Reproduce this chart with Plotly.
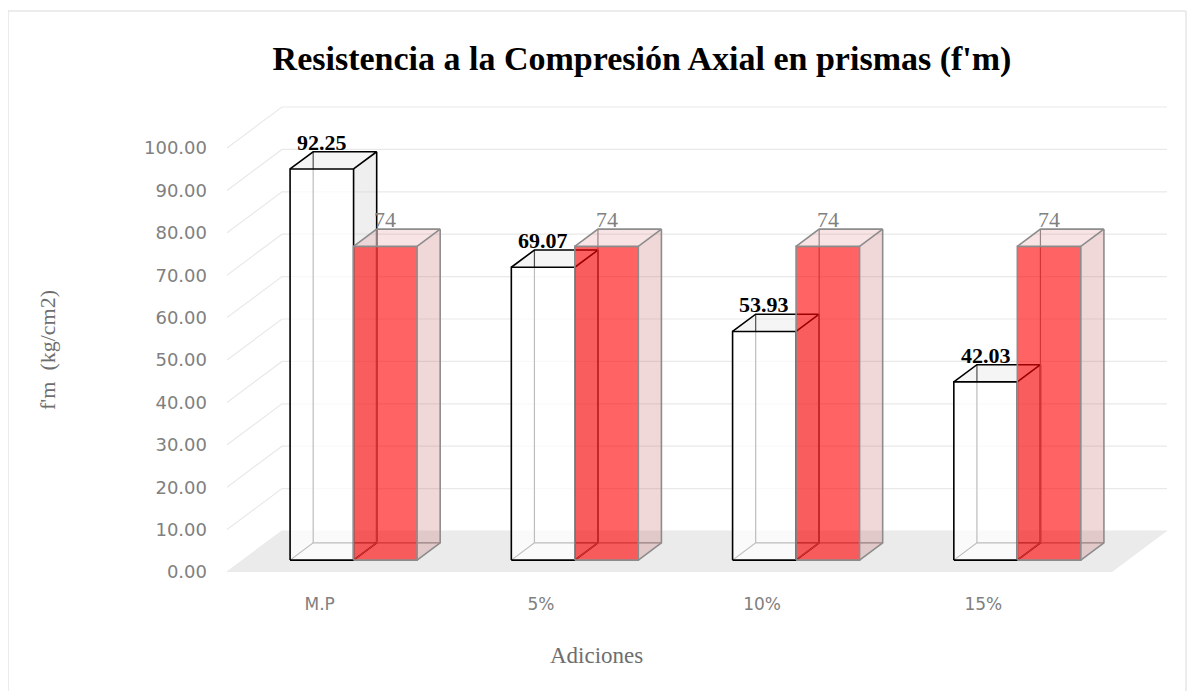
import plotly.graph_objects as go

# ---------------- data ----------------
categories = ["M.P", "5%", "10%", "15%"]
fm_values = [92.25, 69.07, 53.93, 42.03]
ref_values = [74, 74, 74, 74]
fm_labels = ["92.25", "69.07", "53.93", "42.03"]
ref_labels = ["74", "74", "74", "74"]
y_ticks = [0, 10, 20, 30, 40, 50, 60, 70, 80, 90, 100]
y_ticktext = ["%.2f" % v for v in y_ticks]

# ---------------- geometry / layout constants (reference pixels) ----------------
W, H = 1195, 691
OFF = 8                # page body margin offset
PX_X = 221.25          # pixels per category unit
PX_Y = 4.24            # pixels per value unit
X_FRONT0 = 227         # pixel of x = -0.5 at front plane
Y_ZERO = 572           # pixel of value 0 at front plane
DX = 55 / PX_X         # full depth offset (x, category units)
DY = 41 / PX_Y         # full depth offset (y, value units)
D0, D1 = 0.29, 0.71    # bar depth extent
BW = 0.287             # bar width (category units)
LABEL_SHIFT = -18 / PX_X  # category labels sit slightly left of the category centre

L, R, T, B = 215, 1180, 95, 592
x_min = -0.5 - (X_FRONT0 - L) / PX_X
x_max = x_min + (R - L) / PX_X
y_min = (Y_ZERO - B) / PX_Y
y_max = (Y_ZERO - T) / PX_Y

n = len(categories)


def P(x, y, d):
    return x + d * DX, y + d * DY


def poly(points, fill, line_color=None, width=0):
    xs = [p[0] for p in points] + [points[0][0]]
    ys = [p[1] for p in points] + [points[0][1]]
    return go.Scatter(x=xs, y=ys, mode="lines", fill="toself", fillcolor=fill,
                      line=dict(color=line_color or "rgba(0,0,0,0)", width=width),
                      hoverinfo="skip", showlegend=False)


def lines(segs, color, width, dash=None):
    xs, ys = [], []
    for seg in segs:
        for p in seg:
            xs.append(p[0]); ys.append(p[1])
        xs.append(None); ys.append(None)
    return go.Scatter(x=xs, y=ys, mode="lines",
                      line=dict(color=color, width=width, dash=dash),
                      hoverinfo="skip", showlegend=False)


fig = go.Figure()

# back wall gridlines + left-wall diagonals
grid_segs = []
for v in y_ticks:
    grid_segs.append([P(-0.5, v, 0), P(-0.5, v, 1), P(n - 0.5, v, 1)])
fig.add_trace(lines(grid_segs, "#e9e9e9", 1.2))

# floor
fig.add_trace(poly([P(-0.5, 0, 0), P(n - 0.5, 0, 0), P(n - 0.5, 0, 1), P(-0.5, 0, 1)],
                   "#ebebeb"))


def bar(xl, xr, v, front, top, side, edge, hidden_edge, ew):
    tr = []
    tr.append(lines([[P(xl, 0, D0), P(xl, 0, D1), P(xr, 0, D1)],
                     [P(xl, 0, D1), P(xl, v, D1)]], hidden_edge, 1.2))
    tr.append(poly([P(xr, 0, D0), P(xr, 0, D1), P(xr, v, D1), P(xr, v, D0)], side))
    tr.append(poly([P(xl, v, D0), P(xr, v, D0), P(xr, v, D1), P(xl, v, D1)], top))
    tr.append(lines([[P(xl, v, D0), P(xl, v, D1), P(xr, v, D1), P(xr, v, D0)],
                     [P(xr, v, D1), P(xr, 0, D1), P(xr, 0, D0)]], edge, ew))
    tr.append(poly([P(xl, 0, D0), P(xr, 0, D0), P(xr, v, D0), P(xl, v, D0)], front))
    tr.append(lines([[P(xl, 0, D0), P(xr, 0, D0), P(xr, v, D0), P(xl, v, D0), P(xl, 0, D0)]],
                    edge, ew))
    return tr


annotations = []
for i in range(n):
    xl, xr = i - BW, i
    for t in bar(xl, xr, fm_values[i],
                 front="rgba(255,255,255,0.74)", top="rgba(225,225,225,0.35)",
                 side="rgba(215,215,215,0.4)", edge="#000000",
                 hidden_edge="#000000", ew=1.6):
        fig.add_trace(t)
    cx, cy = P((xl + xr) / 2, fm_values[i], D0)[0], P(0, fm_values[i], D1)[1]
    annotations.append(dict(x=cx, y=cy, xref="x", yref="y", text=fm_labels[i],
                            showarrow=False, xanchor="center", yanchor="bottom", yshift=-5,
                            font=dict(family="Liberation Serif", size=22,
                                      color="#000000", weight="bold")))
    xl, xr = i, i + BW
    for t in bar(xl, xr, ref_values[i],
                 front="rgba(255,0,0,0.61)", top="rgba(220,110,110,0.19)",
                 side="rgba(200,100,100,0.25)", edge="#8c8c8c",
                 hidden_edge="#8a8a8a", ew=1.6):
        fig.add_trace(t)
    cx, cy = P((xl + xr) / 2, ref_values[i], D0)[0], P(0, ref_values[i], D1)[1]
    annotations.append(dict(x=cx, y=cy, xref="x", yref="y", text=ref_labels[i],
                            showarrow=False, xanchor="center", yanchor="bottom", yshift=-5,
                            font=dict(family="Liberation Serif", size=22,
                                      color="#808080")))

pw, ph = R - L, B - T
annotations.append(dict(x=(596 - L) / pw, y=(B - 655) / ph, xref="paper", yref="paper",
                        text="Adiciones", showarrow=False,
                        xanchor="center", yanchor="middle",
                        font=dict(family="Liberation Serif", size=23, color="#6e6e6e")))
annotations.append(dict(x=(47 - L) / pw, y=(B - 350) / ph, xref="paper", yref="paper",
                        text="f'm  (kg/cm2)", showarrow=False, textangle=-90,
                        xanchor="center", yanchor="middle",
                        font=dict(family="Liberation Serif", size=22, color="#6e6e6e")))

fig.update_layout(
    width=W, height=H,
    margin=dict(l=L - OFF, r=W - (R - OFF), t=T - OFF, b=H - (B - OFF)),
    paper_bgcolor="white", plot_bgcolor="rgba(0,0,0,0)",
    showlegend=False,
    title=dict(text="<b>Resistencia a la Compresión Axial en prismas (f'm)</b>",
               x=(642 - OFF) / W, xanchor="center", y=1 - (58 - OFF) / H, yanchor="middle",
               font=dict(family="Liberation Serif", size=34, color="#000000")),
    xaxis=dict(range=[x_min, x_max], tickvals=[i + LABEL_SHIFT for i in range(n)],
               ticktext=categories,
               showgrid=False, zeroline=False, showline=False, ticks="",
               tickfont=dict(family="DejaVu Sans", size=17, color="#808080"),
               fixedrange=True),
    yaxis=dict(range=[y_min, y_max], tickvals=y_ticks, ticktext=y_ticktext,
               showgrid=False, zeroline=False, showline=False, ticks="",
               ticklabelstandoff=7,
               tickfont=dict(family="DejaVu Sans", size=18, color="#808080"),
               fixedrange=True),
    annotations=annotations,
    shapes=[dict(type="rect", xref="paper", yref="paper",
                 x0=(8 - L) / pw, x1=(1186 - L) / pw,
                 y0=(B - 705) / ph, y1=(B - 11) / ph,
                 line=dict(color="#d9d9d9", width=1), fillcolor="rgba(0,0,0,0)",
                 layer="below")],
)

fig.write_html("out.html")
